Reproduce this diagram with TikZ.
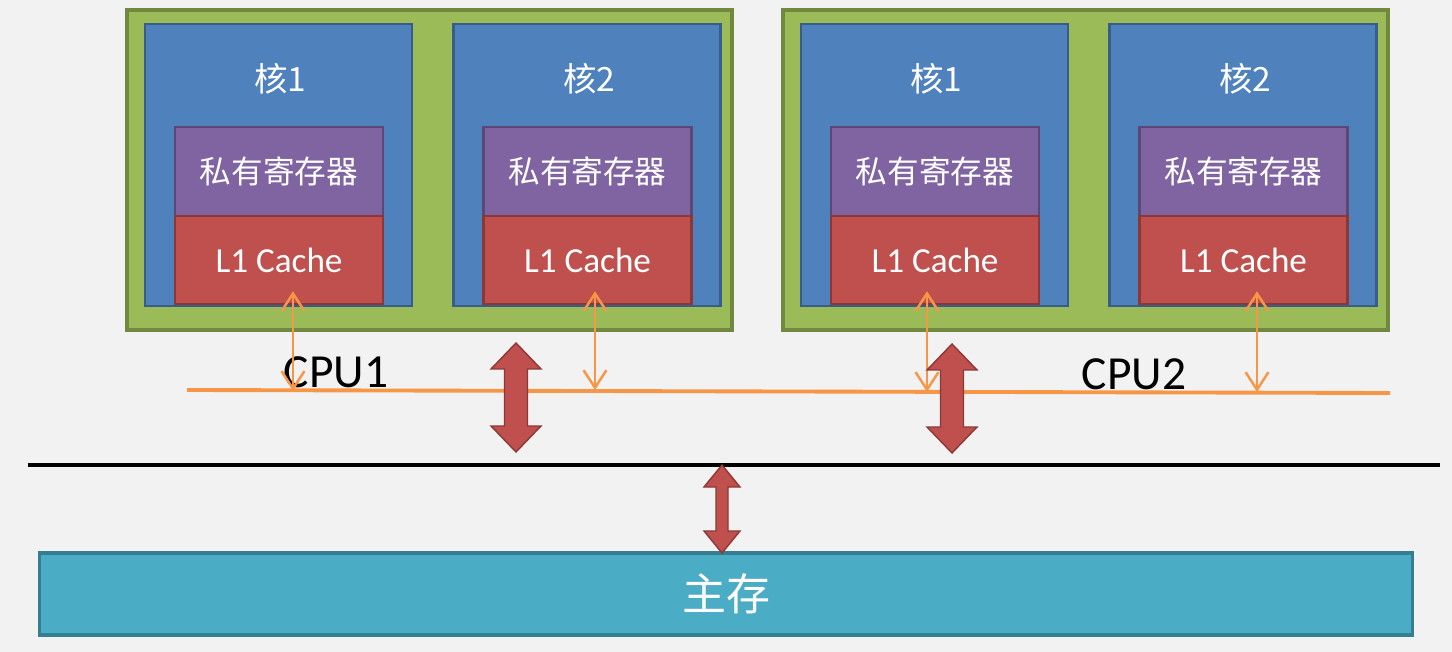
\documentclass[tikz,border=0pt]{standalone}
\usepackage{fontspec}
\setmainfont{Carlito}
\newfontfamily\cjk{Noto Sans CJK SC}
\usetikzlibrary{calc, arrows.meta}
\definecolor{bggray}{HTML}{F2F2F2}
\definecolor{cpugreen}{HTML}{9BBB59}
\definecolor{cpuline}{HTML}{71893F}
\definecolor{coreblue}{HTML}{4F81BD}
\definecolor{coreline}{HTML}{385D8A}
\definecolor{regpurple}{HTML}{8064A2}
\definecolor{regline}{HTML}{5C4776}
\definecolor{cachered}{HTML}{C0504D}
\definecolor{cacheline}{HTML}{8C3836}
\definecolor{memcyan}{HTML}{4BACC6}
\definecolor{memline}{HTML}{357D91}
\definecolor{busorange}{HTML}{F79646}
\tikzset{
    cpubox/.style={draw=cpuline, fill=cpugreen, line width=1pt, minimum width=6.05cm, minimum height=3.2cm, inner sep=0pt},
    corebox/.style={draw=coreline, fill=coreblue, line width=0.7pt, minimum width=2.67cm, minimum height=2.82cm, inner sep=0pt},
    regbox/.style={draw=regline, fill=regpurple, line width=0.7pt, minimum width=2.08cm, minimum height=0.89cm, inner sep=0pt, text=white, font=\cjk\fontsize{9}{10}\selectfont},
    cachebox/.style={draw=cacheline, fill=cachered, line width=0.7pt, minimum width=2.08cm, minimum height=0.88cm, inner sep=0pt, text=white, font=\fontsize{10}{12}\selectfont},
    corelabel/.style={text=white, font=\cjk\fontsize{9.5}{11}\selectfont},
    cpulabel/.style={text=black, font=\fontsize{13.5}{15}\selectfont},
    membox/.style={draw=memline, fill=memcyan, line width=1pt, minimum width=13.72cm, minimum height=0.82cm, inner sep=0pt, text=white, font=\cjk\fontsize{12.5}{14}\selectfont},
    bus/.style={busorange, line width=1.1pt},
    busarrow/.style={busorange, line width=0.7pt, {Straight Barb[length=5pt,width=6.5pt]}-{Straight Barb[length=5pt,width=6.5pt]}},
    sysbus/.style={black, line width=1.4pt},
    fatarrow/.style={fill=cachered, draw=cacheline, line width=0.4pt}
}
% x, half shaft, half head, head length, from y1 to y2
\newcommand\fatdbl[6]{\filldraw[fatarrow] (#1,#5) -- (#1+#3,#5+#4) -- (#1+#2,#5+#4) -- (#1+#2,#6-#4) -- (#1+#3,#6-#4) -- (#1,#6) -- (#1-#3,#6-#4) -- (#1-#2,#6-#4) -- (#1-#2,#5+#4) -- (#1-#3,#5+#4) -- cycle;}
\begin{document}
\begin{tikzpicture}[x=0.01cm, y=-0.01cm]
    \fill[bggray] (0,0) rectangle (1452,652);
    \useasboundingbox (0,0) rectangle (1452,652);

    % two CPUs with two cores each
    \foreach \cx/\n in {127/1, 783/2} {
        \node[cpubox] (cpu\n) at (\cx+302.5,170) {};
        \foreach \dx/\k in {151.5/1, 460/2} {
            \node[corebox] (core\n\k) at (\cx+\dx,165) {};
            \node[corelabel] (name\n\k) at (\cx+\dx+2,79) {核\k};
            \node[regbox] (reg\n\k) at (\cx+\dx+0.5,171.5) {私有寄存器};
            \node[cachebox] (l1\n\k) at (\cx+\dx+0.5,260) {L1 Cache};
        }
    }
    \node[cpulabel] (cpuname1) at (336,372) {CPU1};
    \node[cpulabel] (cpuname2) at (1134,374) {CPU2};

    % orange bus and taps
    \coordinate (busL) at (187,390);
    \coordinate (busR) at (1390,393);
    \draw[bus] (busL) -- (busR);
    \foreach \c/\tx/\ty in {11/293/391, 12/595/390, 21/927/392, 22/1257/392} {
        \coordinate (tap\c) at (\tx,\ty);
        \draw[busarrow] ($(tap\c |- l1\c.south)+(0,-14)$) -- (tap\c);
    }

    % system bus and memory
    \coordinate (sysL) at (28,465);
    \coordinate (sysR) at (1440,465);
    \draw[sysbus] (sysL) -- (sysR);
    \node[membox] (mem) at (726,594) {主存};

    \fatdbl{516}{11.5}{25}{26}{343}{452}
    \fatdbl{952}{11.5}{25}{26}{344}{453}
    \fatdbl{722}{6}{18}{22}{465}{553}
\end{tikzpicture}
\end{document}
